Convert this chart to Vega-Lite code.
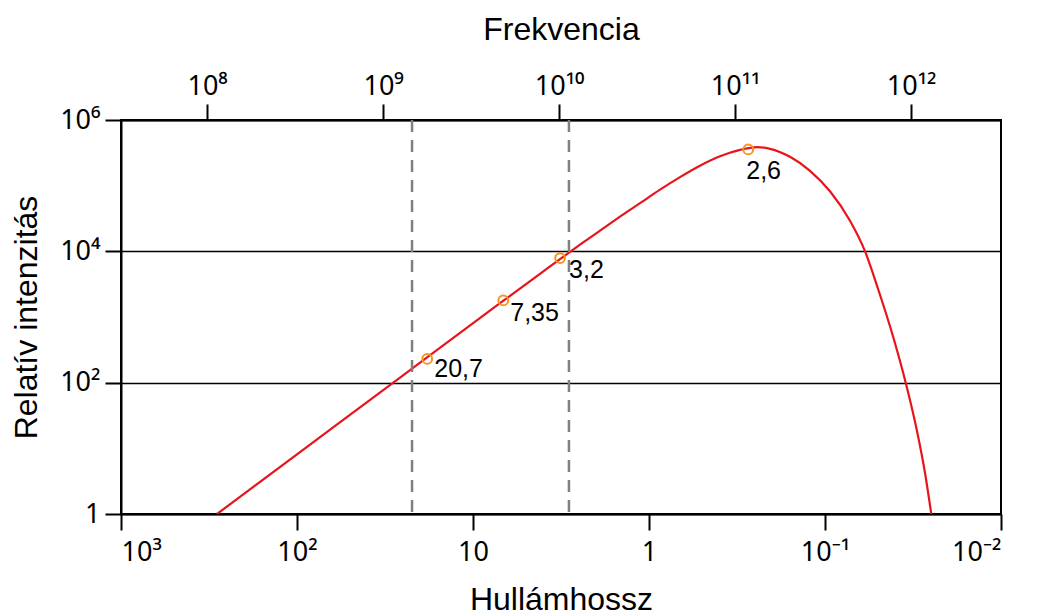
{
  "$schema": "https://vega.github.io/schema/vega-lite/v6.json",
  "width": 880,
  "height": 394,
  "autosize": {"type": "none"},
  "padding": {"left": 121, "top": 120, "right": 37, "bottom": 101},
  "background": "white",
  "config": {
    "font": "Liberation Sans",
    "view": {"stroke": "black", "strokeWidth": 2},
    "axis": {
      "domainColor": "black", "domainWidth": 2,
      "tickColor": "black", "tickWidth": 2, "tickSize": 16,
      "labelColor": "black", "labelFontSize": 27, "labelFont": "Noto Sans",
      "titleColor": "black", "titleFontSize": 32, "titleFontWeight": "normal", "titleFont": "Liberation Sans",
      "grid": false
    }
  },
  "datasets": {
    "curve": [
      {"wavelength": 284.8, "intensity": 1},
      {"wavelength": 96.15, "intensity": 8.763},
      {"wavelength": 25.98, "intensity": 119.8},
      {"wavelength": 7.024, "intensity": 1623},
      {"wavelength": 4.163, "intensity": 4549},
      {"wavelength": 2.885, "intensity": 9333},
      {"wavelength": 2.466, "intensity": 12620},
      {"wavelength": 1.898, "intensity": 20690},
      {"wavelength": 1.462, "intensity": 33690},
      {"wavelength": 1.125, "intensity": 54080},
      {"wavelength": 0.866, "intensity": 86830},
      {"wavelength": 0.6667, "intensity": 135000},
      {"wavelength": 0.5132, "intensity": 201400},
      {"wavelength": 0.395, "intensity": 280100},
      {"wavelength": 0.3041, "intensity": 350500},
      {"wavelength": 0.2434, "intensity": 385300},
      {"wavelength": 0.2054, "intensity": 364200},
      {"wavelength": 0.1581, "intensity": 275200},
      {"wavelength": 0.1217, "intensity": 168400},
      {"wavelength": 0.09368, "intensity": 82090},
      {"wavelength": 0.0721, "intensity": 29170},
      {"wavelength": 0.05926, "intensity": 10050},
      {"wavelength": 0.04972, "intensity": 2578},
      {"wavelength": 0.04097, "intensity": 496},
      {"wavelength": 0.03475, "intensity": 98.8},
      {"wavelength": 0.02985, "intensity": 17.12},
      {"wavelength": 0.02702, "intensity": 4.21},
      {"wavelength": 0.02489, "intensity": 1}
    ],
    "points": [
      {"label": "20,7", "wavelength": 18.2, "intensity": 230},
      {"label": "7,35", "wavelength": 6.73, "intensity": 1790},
      {"label": "3,2", "wavelength": 3.2, "intensity": 7900},
      {"label": "2,6", "wavelength": 0.273, "intensity": 356000}
    ],
    "dashes": [
      {"wavelength": 22.2},
      {"wavelength": 2.85}
    ],
    "freq": [
      {"frequency": 100000000, "intensity": 1},
      {"frequency": 1000000000000, "intensity": 1}
    ]
  },
  "layer": [
    {
      "layer": [
        {
          "data": {"name": "curve"},
          "mark": {"type": "line", "color": "#e8141c", "strokeWidth": 2.2, "interpolate": "monotone", "clip": true},
          "encoding": {
            "x": {"field": "wavelength", "type": "quantitative",
              "scale": {"type": "log", "domain": [0.01, 1000], "reverse": true, "nice": false},
              "axis": {"title": "Hullámhossz", "values": [1000, 100, 10, 1, 0.1, 0.01], "labelPadding": 9, "titlePadding": 19,
                "labelExpr": "datum.value > 500 ? '10³' : datum.value > 50 ? '10²' : datum.value > 5 ? '10' : datum.value > 0.5 ? '1' : datum.value > 0.05 ? '10⁻¹' : '10⁻²'"}},
            "y": {"field": "intensity", "type": "quantitative",
              "scale": {"type": "log", "domain": [1, 1000000], "nice": false},
              "axis": {"title": "Relatív intenzitás", "values": [1, 100, 10000, 1000000], "grid": true, "gridColor": "black", "gridWidth": 1.3, "gridOpacity": 1,
                "labelPadding": 5, "titlePadding": 16,
                "labelExpr": "datum.value > 500000 ? '10⁶' : datum.value > 5000 ? '10⁴' : datum.value > 50 ? '10²' : '1'"}}
          }
        },
        {
          "data": {"name": "dashes"},
          "mark": {"type": "rule", "color": "#808080", "strokeWidth": 2.5, "strokeDash": [12, 8]},
          "encoding": {
            "x": {"field": "wavelength", "type": "quantitative"}
          }
        },
        {
          "data": {"name": "points"},
          "mark": {"type": "point", "shape": "circle", "filled": false, "color": "#f7931e", "strokeWidth": 2, "size": 95, "opacity": 1},
          "encoding": {
            "x": {"field": "wavelength", "type": "quantitative"},
            "y": {"field": "intensity", "type": "quantitative"}
          }
        },
        {
          "data": {"name": "points"},
          "transform": [{"filter": "datum.label == '20,7'"}],
          "mark": {"type": "text", "align": "left", "baseline": "middle", "dx": 7, "dy": 10, "fontSize": 25, "color": "black"},
          "encoding": {
            "x": {"field": "wavelength", "type": "quantitative"},
            "y": {"field": "intensity", "type": "quantitative"},
            "text": {"field": "label"}
          }
        },
        {
          "data": {"name": "points"},
          "transform": [{"filter": "datum.label == '7,35'"}],
          "mark": {"type": "text", "align": "left", "baseline": "middle", "dx": 7, "dy": 13, "fontSize": 25, "color": "black"},
          "encoding": {
            "x": {"field": "wavelength", "type": "quantitative"},
            "y": {"field": "intensity", "type": "quantitative"},
            "text": {"field": "label"}
          }
        },
        {
          "data": {"name": "points"},
          "transform": [{"filter": "datum.label == '3,2'"}],
          "mark": {"type": "text", "align": "left", "baseline": "middle", "dx": 9, "dy": 12, "fontSize": 25, "color": "black"},
          "encoding": {
            "x": {"field": "wavelength", "type": "quantitative"},
            "y": {"field": "intensity", "type": "quantitative"},
            "text": {"field": "label"}
          }
        },
        {
          "data": {"name": "points"},
          "transform": [{"filter": "datum.label == '2,6'"}],
          "mark": {"type": "text", "align": "left", "baseline": "middle", "dx": -2, "dy": 22, "fontSize": 25, "color": "black"},
          "encoding": {
            "x": {"field": "wavelength", "type": "quantitative"},
            "y": {"field": "intensity", "type": "quantitative"},
            "text": {"field": "label"}
          }
        }
      ]
    },
    {
      "data": {"name": "freq"},
      "mark": {"type": "point", "opacity": 0},
      "encoding": {
        "x": {"field": "frequency", "type": "quantitative",
          "scale": {"type": "log", "domain": [32400000, 3240000000000], "nice": false},
          "axis": {"orient": "top", "title": "Frekvencia", "values": [100000000, 1000000000, 10000000000, 100000000000, 1000000000000], "labelPadding": 4, "titlePadding": 26,
            "labelExpr": "datum.value > 500000000000 ? '10¹²' : datum.value > 50000000000 ? '10¹¹' : datum.value > 5000000000 ? '10¹⁰' : datum.value > 500000000 ? '10⁹' : '10⁸'"}},
        "y": {"field": "intensity", "type": "quantitative"}
      }
    }
  ],
  "resolve": {"scale": {"x": "independent"}}
}
